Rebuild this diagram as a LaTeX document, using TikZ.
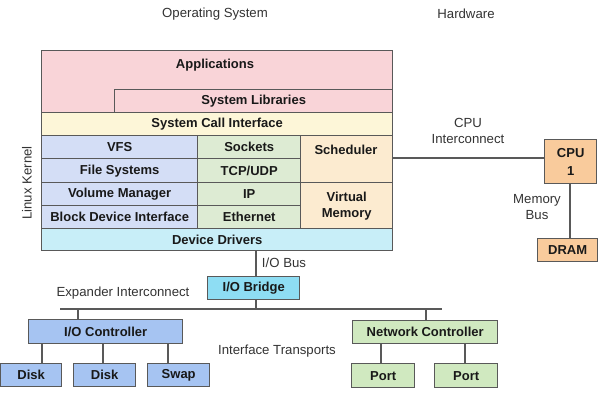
\documentclass[tikz,border=0pt]{standalone}
\usepackage{fontspec}
\setmainfont{Liberation Sans}
\newcommand{\bxnode}[7]{\node[bx,fill=#2,minimum width=(#5-#3)*1pt,minimum height=(#6-#4)*1pt,anchor=north west] (#1) at (#3,#4) {#7};}
\begin{document}
\begin{tikzpicture}[x=1pt,y=-1pt,
  line width=1.4pt,
  lc/.style={draw=black!65},
  bx/.style={lc,rectangle,inner sep=0pt,font=\fontsize{13}{16}\selectfont\bfseries,text=black!90,align=center},
  lbl/.style={font=\fontsize{13.2}{15.5}\selectfont,text=black!80,align=center,inner sep=0pt},
  wire/.style={draw=black!65,line width=1.4pt}
]
\definecolor{cpink}{HTML}{F9D4D8}
\definecolor{cyel}{HTML}{FDF6D8}
\definecolor{cblue}{HTML}{D4DEF6}
\definecolor{cgreen}{HTML}{DDEBD3}
\definecolor{cpeach}{HTML}{FCEBD0}
\definecolor{ccyan}{HTML}{C8EEF8}
\definecolor{cbridge}{HTML}{8EDDF3}
\definecolor{cdblue}{HTML}{A6C4F2}
\definecolor{cdgreen}{HTML}{D0E9C0}
\definecolor{corange}{HTML}{F9CB9C}
\useasboundingbox (0,0) rectangle (600,400);
% top labels
\node[lbl] (os) at (215,14) {Operating System};
\node[lbl] (hw) at (466,14) {Hardware};
% kernel
\bxnode{app}{cpink}{41}{50}{392}{112}{}
\node[font=\fontsize{13}{16}\selectfont\bfseries,text=black!90] (apptxt) at (215,65) {Applications};
\bxnode{lib}{cpink}{114}{89}{392}{112}{System Libraries}
\bxnode{sci}{cyel}{41}{112}{392}{135}{System Call Interface}
\bxnode{vfs}{cblue}{41}{135}{197}{158}{VFS}
\bxnode{fs}{cblue}{41}{158}{197}{182}{File Systems}
\bxnode{vm}{cblue}{41}{182}{197}{205}{Volume Manager}
\bxnode{bdi}{cblue}{41}{205}{197}{228}{Block Device Interface}
\bxnode{sock}{cgreen}{197}{135}{300}{158}{Sockets}
\bxnode{tcp}{cgreen}{197}{158}{300}{182}{TCP/UDP}
\bxnode{ip}{cgreen}{197}{182}{300}{205}{IP}
\bxnode{eth}{cgreen}{197}{205}{300}{228}{Ethernet}
\bxnode{sched}{cpeach}{300}{135}{392}{182}{}
\node[font=\fontsize{13}{16}\selectfont\bfseries,text=black!90] (schedtxt) at (346,150) {Scheduler};
\bxnode{virt}{cpeach}{300}{182}{392}{228}{Virtual\\Memory}
\bxnode{dd}{ccyan}{41}{228}{392}{250}{Device Drivers}
\node[lbl,rotate=90] (lk) at (27,183) {Linux Kernel};
% CPU side
\bxnode{cpu}{corange}{544}{139}{596}{183}{CPU\\[2pt]1}
\bxnode{dram}{corange}{537}{238}{597}{261}{DRAM}
\coordinate (ci) at (392,158);
\draw[wire] (ci) -- (cpu.west|-ci);
\node[lbl] (cilbl) at (468,131) {CPU\\Interconnect};
\draw[wire] (cpu.south-|570,0) -- (dram.north-|570,0);
\node[lbl] (mblbl) at (537,207) {Memory\\Bus};
% IO
\bxnode{bridge}{cbridge}{207}{276}{299}{299}{I/O Bridge}
\draw[wire] (dd.south-|256,0) -- (bridge.north-|256,0);
\node[lbl] (iobus) at (284,263) {I/O Bus};
\coordinate (busL) at (60,309);
\coordinate (busR) at (442,309);
\draw[wire] (busL) -- (busR);
\draw[wire] (bridge.south-|256,0) -- (256,309);
\node[lbl] (exp) at (123,293) {Expander Interconnect};
\bxnode{ioc}{cdblue}{28}{319}{182}{343}{I/O Controller}
\draw[wire] (78,309) -- (ioc.north-|78,0);
\bxnode{d1}{cdblue}{0}{363}{61}{386}{Disk}
\bxnode{d2}{cdblue}{73}{363}{135}{386}{Disk}
\bxnode{sw}{cdblue}{147}{363}{209}{386}{Swap}
\draw[wire] (ioc.south-|42,0) -- (d1.north-|42,0);
\draw[wire] (ioc.south-|103,0) -- (d2.north-|103,0);
\draw[wire] (ioc.south-|168,0) -- (sw.north-|168,0);
\node[lbl] (it) at (277,351) {Interface Transports};
\bxnode{nc}{cdgreen}{352}{320}{497}{343}{Network Controller}
\draw[wire] (426,309) -- (nc.north-|426,0);
\bxnode{p1}{cdgreen}{351}{363}{414}{387}{Port}
\bxnode{p2}{cdgreen}{434}{363}{497}{387}{Port}
\draw[wire] (nc.south-|381,0) -- (p1.north-|381,0);
\draw[wire] (nc.south-|465,0) -- (p2.north-|465,0);
\end{tikzpicture}
\end{document}
